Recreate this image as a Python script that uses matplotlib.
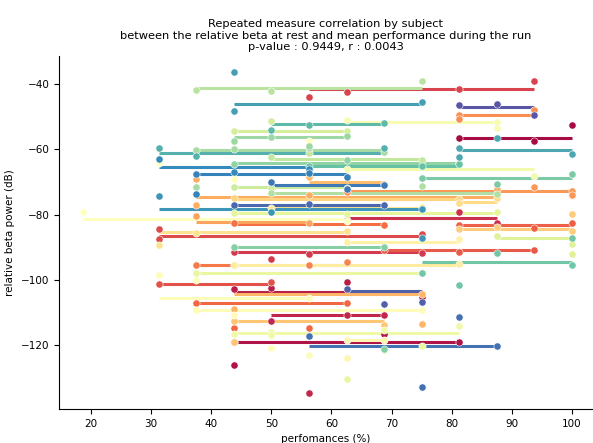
import matplotlib.pyplot as plt
import numpy as np

# one entry per subject, subjects ordered as in the palette (crimson -> purple)
# performance (%) of each run
subj_perf = [
    [81.25, 93.75, 100], [43.75, 43.75, 68.75, 81.25], [43.75, 50, 62.5, 75],
    [50, 56.25, 62.5, 68.75], [62.5, 81.25, 87.5], [43.75, 50, 56.25, 75],
    [56.25, 62.5, 81.25, 93.75], [31.25, 31.25, 75], [31.25, 50],
    [68.75, 81.25, 93.75], [81.25, 93.75, 100], [37.5, 43.75, 56.25, 62.5],
    [43.75, 68.75], [37.5, 43.75], [56.25, 62.5], [81.25, 81.25, 93.75],
    [62.5, 93.75, 100, 100], [37.5, 56.25], [37.5, 37.5, 56.25, 87.5, 87.5],
    [43.75, 75, 75], [56.25, 68.75], [43.75, 43.75, 68.75],
    [81.25, 87.5, 100, 100], [43.75, 81.25], [81.25, 87.5],
    [31.25, 37.5, 62.5], [50, 75], [43.75, 81.25], [62.5, 81.25],
    [62.5, 62.5, 68.75], [37.5, 43.75, 75], [18.75, 31.25, 43.75, 56.25, 62.5],
    [31.25, 37.5, 50, 56.25, 56.25], [62.5, 87.5, 87.5], [62.5, 81.25, 93.75],
    [43.75, 50, 50, 68.75, 81.25], [37.5, 62.5, 68.75, 75, 75],
    [43.75, 62.5, 87.5], [87.5, 100, 100], [43.75, 50, 62.5],
    [43.75, 50, 62.5], [50, 56.25, 75], [37.5, 50, 75], [50, 75, 87.5],
    [37.5, 37.5, 43.75, 56.25, 68.75], [43.75, 50, 56.25, 62.5],
    [43.75, 62.5, 81.25], [43.75, 68.75, 68.75], [75, 87.5, 100],
    [75, 81.25, 87.5, 100, 100], [56.25, 75, 81.25], [50, 56.25, 68.75],
    [31.25, 37.5, 68.75], [81.25, 81.25, 87.5, 100], [43.75, 43.75, 75],
    [31.25, 50, 75, 75], [31.25, 43.75, 56.25], [37.5, 37.5, 56.25, 62.5],
    [50, 62.5, 68.75], [56.25, 75, 81.25, 87.5], [43.75, 56.25, 68.75],
    [62.5, 68.75, 75], [81.25, 87.5, 93.75],
]
# relative beta power at rest (dB) of each run
subj_beta = [
    [-56.6, -57.4, -52.5], [-119.2, -126.1, -116.5, -119.0], [-102.8, -102.6, -100.6, -105.2],
    [-112.6, -134.8, -110.8, -110.8], [-81.7, -79.1, -82.7], [-91.5, -93.7, -92.0, -91.7],
    [-44.1, -42.5, -41.6, -39.1], [-84.4, -87.5, -86.0], [-101.3, -100.6],
    [-90.9, -91.5, -90.9], [-83.2, -84.0, -82.5], [-107.1, -114.7, -114.7, -107.0],
    [-82.5, -83.3], [-95.5, -95.5], [-95.5, -94.5], [-49.5, -50.8, -48.0],
    [-73.1, -71.5, -72.7, -74.0], [-80.4, -82.5], [-77.0, -69.1, -74.0, -75.0, -72.2],
    [-109.0, -104.4, -113.5], [-68.4, -70.7], [-112.6, -119.2, -113.7],
    [-84.4, -83.7, -85.0, -79.7], [-75.0, -75.3], [-76.5, -75.0],
    [-89.3, -85.8, -85.0], [-78.0, -77.6], [-95.5, -95.3], [-88.5, -87.5],
    [-118.5, -124.1, -118.5], [-109.3, -110.8, -109.3], [-79.1, -64.1, -69.2, -57.4, -82.0],
    [-98.5, -100.1, -121.0, -123.1, -105.5], [-51.0, -51.6, -53.6], [-66.1, -64.2, -68.1],
    [-116.6, -115.9, -116.9, -115.4, -114.1], [-98.0, -130.4, -121.6, -120.2, -98.0],
    [-79.4, -79.8, -79.1], [-86.5, -89.0, -92.1], [-54.5, -51.4, -54.4],
    [-71.5, -72.0, -72.0], [-62.5, -61.2, -63.3], [-41.7, -42.2, -39.1], [-73.3, -71.2, -73.7],
    [-60.2, -71.5, -60.0, -59.6, -60.8], [-57.4, -56.2, -59.0, -55.9],
    [-64.5, -63.3, -64.2], [-90.0, -89.9, -121.3], [-68.9, -70.7, -67.7],
    [-98.0, -101.6, -91.7, -95.5, -87.3], [-65.0, -65.2, -64.5], [-54.1, -52.7, -51.9],
    [-59.6, -62.1, -59.7], [-59.7, -62.5, -56.6, -61.5], [-36.4, -48.3, -45.6],
    [-74.2, -79.2, -78.4, -87.1], [-63.1, -67.0, -66.0], [-67.6, -73.7, -67.2, -68.6],
    [-69.9, -72.2, -71.0], [-117.2, -132.8, -111.3, -120.3], [-77.1, -76.8, -77.1],
    [-102.8, -107.5, -106.7], [-46.4, -46.2, -49.5],
]
# fitted level of the repeated measure regression line per subject (dB)
subj_fit = [
    -56.6, -119.0, -103.7, -110.8, -81.0, -91.6, -41.6, -86.5, -101.3, -90.9,
    -83.2, -107.0, -82.9, -95.5, -95.5, -49.5, -72.7, -82.2, -74.5, -104.5,
    -69.9, -112.6, -84.4, -75.1, -76.0, -85.3, -77.9, -95.5, -88.5, -118.5,
    -109.3, -81.5, -105.5, -51.6, -66.1, -116.3, -98.0, -79.4, -87.3, -54.4,
    -71.5, -63.1, -41.2, -73.3, -60.2, -56.2, -64.1, -89.9, -68.9, -94.5,
    -65.0, -52.1, -61.2, -60.2, -46.1, -78.4, -65.5, -67.6, -71.0, -120.3,
    -77.1, -103.4, -47.1,
]

p_value = 0.9449
r_value = 0.0043

n_subj = len(subj_perf)
palette = plt.get_cmap("Spectral")(np.linspace(0, 1, n_subj + 2)[1:-1])

fig = plt.figure(figsize=(5.93, 4.43), dpi=100)
ax = fig.add_axes([59 / 593, 34 / 443, 534 / 593, 353 / 443])

# regression lines first, then the runs on top
for perf, fit, col in zip(subj_perf, subj_fit, palette):
    ax.plot([min(perf), max(perf)], [fit, fit], color=col, lw=2.2, solid_capstyle="butt")
for perf, beta, col in zip(subj_perf, subj_beta, palette):
    ax.scatter(perf, beta, s=27, color=col, edgecolors="white", linewidths=0.4, zorder=3)

ax.set_xlim(14.68, 103.5)
ax.set_ylim(-139.6, -31.4)
ax.set_xticks(np.arange(20, 101, 10))
ax.set_yticks([-120, -100, -80, -60, -40])
ax.tick_params(labelsize=7.5)
ax.spines[["top", "right"]].set_visible(False)

ax.set_xlabel("perfomances (%)", fontsize=7.5)
ax.set_ylabel("relative beta power (dB)", fontsize=7.5)
ax.set_title(
    "Repeated measure correlation by subject\n"
    "between the relative beta at rest and mean performance during the run\n"
    f"p-value : {p_value}, r : {r_value}",
    fontsize=8.2, pad=4,
)

fig.savefig("out.png", dpi=100)
